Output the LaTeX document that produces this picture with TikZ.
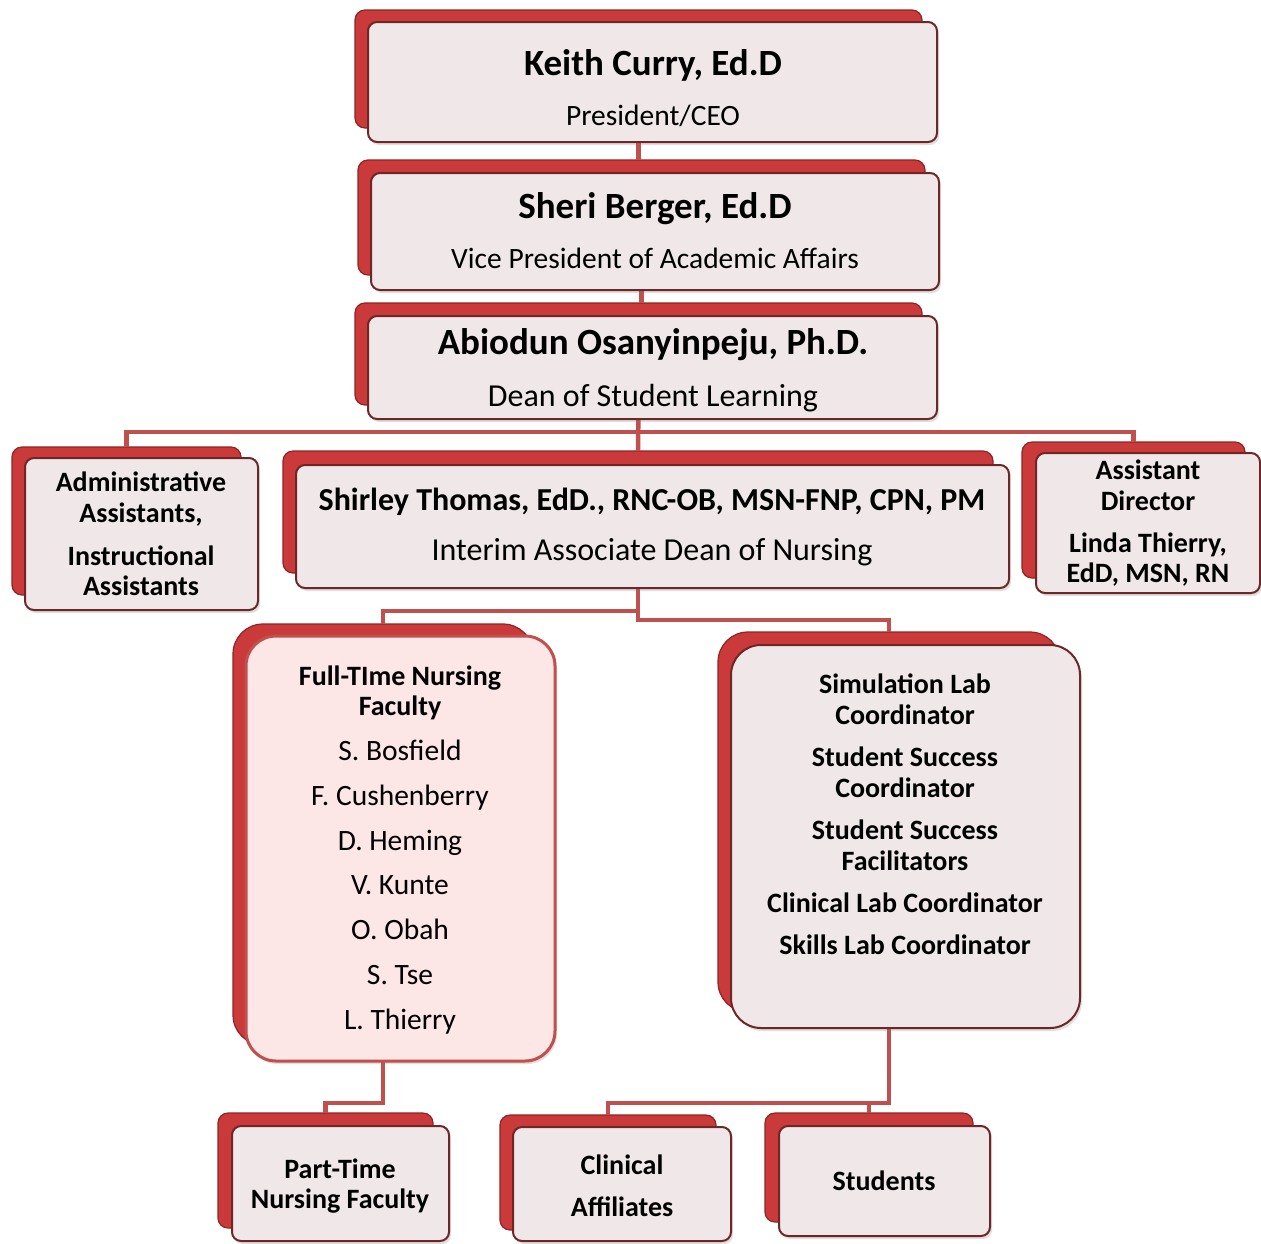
\documentclass[tikz,border=0pt]{standalone}
\usepackage{fontspec}
\setmainfont{Carlito}
\usetikzlibrary{shadows}
\definecolor{linkred}{HTML}{C0504D}
\definecolor{backred}{HTML}{CB3A3B}
\definecolor{backedge}{HTML}{8E2424}
\definecolor{frontfill}{HTML}{F0E8E8}
\definecolor{frontedge}{HTML}{6E2626}
\definecolor{ftfill}{HTML}{FDE6E6}
\tikzset{
  conn/.style={draw=linkred, line width=4.5pt},
  backbox/.style={rectangle, rounded corners=10pt, fill=backred, draw=backedge, line width=1.2pt, inner sep=0pt, outer sep=0pt},
  frontbox/.style={rectangle, rounded corners=9pt, fill=frontfill, draw=frontedge, line width=2pt, inner sep=0pt, outer sep=0pt,
    drop shadow={shadow xshift=2pt, shadow yshift=-3pt, opacity=0.25}},
  bigback/.style={backbox, rounded corners=30pt},
  ftbox/.style={frontbox, rounded corners=30pt, fill=ftfill, draw=linkred, line width=3pt},
  simbox/.style={frontbox, rounded corners=30pt},
  txt/.style={inner sep=0pt, outer sep=0pt, align=center, text=black},
  head/.style={txt, anchor=base, font=\fontsize{37}{42}\selectfont\bfseries},
  sub/.style={txt, anchor=base, font=\fontsize{29.5}{34}\selectfont},
  subbig/.style={txt, anchor=base, font=\fontsize{32}{36}\selectfont},
  small/.style={txt, font=\fontsize{28}{30.5}\selectfont\bfseries},
  names/.style={txt, font=\fontsize{29.5}{44.8}\selectfont},
}
\begin{document}
\begin{tikzpicture}[x=1pt,y=-1pt]
\useasboundingbox (0,0) rectangle (1261,1243);
% back boxes
\node[backbox, minimum width=567pt, minimum height=118pt] (keith-b) at (638.5,69) {};
\node[backbox, minimum width=567pt, minimum height=115pt] (sheri-b) at (641.5,217.5) {};
\node[backbox, minimum width=567pt, minimum height=102pt] (abi-b) at (638.5,354) {};
\node[backbox, minimum width=229pt, minimum height=148pt] (admin-b) at (126.5,521) {};
\node[backbox, minimum width=710pt, minimum height=122pt] (shir-b) at (638,512) {};
\node[backbox, minimum width=223pt, minimum height=136pt] (ad-b) at (1133.5,510) {};
\node[bigback, minimum width=300pt, minimum height=421pt] (ft-b) at (383,834.5) {};
\node[bigback, minimum width=342pt, minimum height=380pt] (sim-b) at (889,822) {};
\node[backbox, minimum width=215pt, minimum height=115pt] (pt-b) at (325.5,1170.5) {};
\node[backbox, minimum width=216pt, minimum height=115pt] (cl-b) at (608,1172.5) {};
\node[backbox, minimum width=208pt, minimum height=109pt] (st-b) at (869,1167.5) {};
% buses
\coordinate (bus1) at (0,432);
\coordinate (bus2l) at (0,611);
\coordinate (bus2r) at (0,620);
\coordinate (bus3) at (0,1103);
% connectors
\draw[conn] (keith-b.south) -- (keith-b.south |- sheri-b.north);
\draw[conn] (sheri-b.south) -- (sheri-b.south |- abi-b.north);
\draw[conn] (abi-b.south) -- (shir-b.north);
\draw[conn] (admin-b.north) -- (admin-b.north |- bus1) -- (abi-b.south |- bus1);
\draw[conn] (ad-b.north) -- (ad-b.north |- bus1) -- (abi-b.south |- bus1);
\draw[conn] (shir-b.south) -- (shir-b.south |- bus2r) -- (sim-b.north |- bus2r) -- (sim-b.north);
\draw[conn] (ft-b.north) -- (ft-b.north |- bus2l) -- (shir-b.south |- bus2l);
\draw[conn] (ft-b.south) -- (ft-b.south |- bus3) -- (pt-b.north |- bus3) -- (pt-b.north);
\draw[conn] (sim-b.south) -- (sim-b.south |- bus3) -- (cl-b.north |- bus3) -- (cl-b.north);
\draw[conn] (st-b.north) -- (st-b.north |- bus3);
% front boxes
\node[frontbox, minimum width=569pt, minimum height=120pt] (keith) at (652.5,82) {};
\node[frontbox, minimum width=568pt, minimum height=117pt] (sheri) at (655,231.5) {};
\node[frontbox, minimum width=569pt, minimum height=103pt] (abi) at (652.5,367.5) {};
\node[frontbox, minimum width=233pt, minimum height=152pt] (admin) at (141.5,534) {};
\node[frontbox, minimum width=713pt, minimum height=123pt] (shir) at (652.5,526.5) {};
\node[frontbox, minimum width=224pt, minimum height=140pt] (ad) at (1148,523) {};
\node[ftbox, minimum width=309pt, minimum height=425pt] (ft) at (400.5,848.5) {};
\node[simbox, minimum width=349pt, minimum height=383pt] (sim) at (905.5,836.5) {};
\node[frontbox, minimum width=217pt, minimum height=115pt] (pt) at (340.5,1183.5) {};
\node[frontbox, minimum width=218pt, minimum height=114pt] (cl) at (622,1184) {};
\node[frontbox, minimum width=211pt, minimum height=110pt] (st) at (884.5,1181) {};
% texts
\node[head] (keith-h) at (653,75) {Keith Curry, Ed.D};
\node[sub] (keith-s) at (653,125) {President/CEO};
\node[head] (sheri-h) at (655,218) {Sheri Berger, Ed.D};
\node[sub] (sheri-s) at (655,268) {Vice President of Academic Affairs};
\node[head] (abi-h) at (653,354) {Abiodun Osanyinpeju, Ph.D.};
\node[subbig] (abi-s) at (653,406) {Dean of Student Learning};
\node[txt, anchor=base, font=\fontsize{32}{36}\selectfont\bfseries] (shir-h) at (652,510) {Shirley Thomas, EdD., RNC-OB, MSN-FNP, CPN, PM};
\node[subbig] (shir-s) at (652,560) {Interim Associate Dean of Nursing};
\node[small] (admin-t) at (141,534) {Administrative\\Assistants,\\[12.5pt]Instructional\\Assistants};
\node[small] (ad-t) at (1148,523.5) {Assistant\\Director\\[11.5pt]Linda Thierry,\\EdD, MSN, RN};
\node[small] (ft-h) at (400,693) {Full-TIme Nursing\\Faculty};
\node[names] (ft-n) at (400,887) {S. Bosfield\\F. Cushenberry\\D. Heming\\V. Kunte\\O. Obah\\S. Tse\\L. Thierry};
\node[small] (sim-t) at (905,814) {Simulation Lab\\Coordinator\\[12pt]Student Success\\Coordinator\\[12pt]Student Success\\Facilitators\\[12pt]Clinical Lab Coordinator\\[11pt]Skills Lab Coordinator};
\node[small] (pt-t) at (340,1186) {Part-Time\\Nursing Faculty};
\node[small] (cl-t) at (622,1186) {Clinical\\[11pt]Affiliates};
\node[small] (st-t) at (884,1181) {Students};
\end{tikzpicture}
\end{document}
